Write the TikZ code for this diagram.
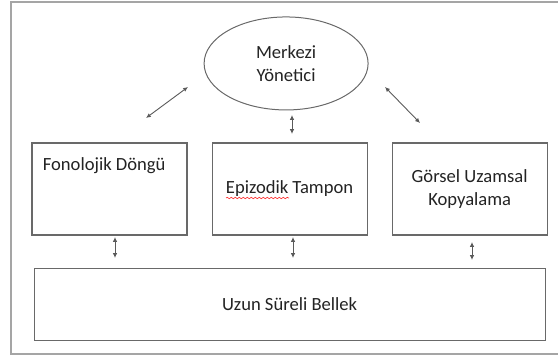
\documentclass[tikz,border=0pt]{standalone}
\usepackage{fontspec}
\setmainfont{Carlito}
\usetikzlibrary{arrows.meta,positioning,shapes.geometric,decorations.pathmorphing}
\usepackage{xcolor}
\definecolor{framegray}{RGB}{165,165,165}
\definecolor{boxgray}  {RGB}{105,105,105}
\definecolor{txtgray}  {RGB}{ 35, 35, 35}
\definecolor{arrowgray}{RGB}{ 90, 90, 90}

\begin{document}
\begin{tikzpicture}[
    x=0.5pt, y=-0.5pt,
    node distance=16pt and 12pt,
    txt/.style={text=txtgray, font=\fontsize{9.3}{11.5}\selectfont},
    box/.style={draw=boxgray, rectangle, line width=0.55pt, minimum width=77.5pt, minimum height=46pt, inner sep=0pt, align=center, txt},
    wide/.style={box, minimum width=255.5pt, minimum height=36pt},
    oval/.style={draw=boxgray, ellipse, line width=0.5pt, minimum width=82pt, minimum height=46.5pt, inner sep=0pt, align=center, txt},
    dbl/.style={{Latex[length=2.4pt,width=2.2pt]}-{Latex[length=2.4pt,width=2.2pt]}, draw=arrowgray, line width=0.45pt},
    frame/.style={draw=framegray, line width=0.8pt}
]
    \useasboundingbox (0,0) rectangle (558,358);
    \draw[frame] (11,2) rectangle (563,354);

    % --- components ---
    \node[box] (fon) at (109.5,189) {};
    \node[txt, anchor=north west, inner sep=0pt] (fontxt) at ([xshift=5.5pt,yshift=-7.5pt]fon.north west) {Fonolojik Döngü};
    \node[box] (epi) [right=of fon] {Epizodik Tampon};
    \node[box] (gor) [right=of epi] {Görsel Uzamsal\\Kopyalama};
    \node[wide] (usb) [below=of epi] {Uzun Süreli Bellek};
    \node[oval] (mer) [above=of epi, xshift=-1.75pt] {Merkezi\\Yönetici};

    % spell check mark
    \draw[red!85, line width=0.3pt, decorate, decoration={snake, amplitude=0.35pt, segment length=2pt}] (226,198) -- (289,198);

    % --- arrow ends ---
    \coordinate (dl1) at (146,118);  \coordinate (dl2) at (188,87);
    \coordinate (dr1) at (385,87);   \coordinate (dr2) at (420,123);
    \coordinate (dc1) at (292,115);  \coordinate (dc2) at (292,134);
    \coordinate (v1a) at (115,237);  \coordinate (v1b) at (115,258);
    \coordinate (v2a) at (293,237);  \coordinate (v2b) at (293,258);
    \coordinate (v3a) at (472,242);  \coordinate (v3b) at (472,260);

    % --- arrows ---
    \draw[dbl] (dl1) -- (dl2);
    \draw[dbl] (dr1) -- (dr2);
    \draw[dbl] (dc1) -- (dc2);
    \draw[dbl] (v1a) -- (v1b);
    \draw[dbl] (v2a) -- (v2b);
    \draw[dbl] (v3a) -- (v3b);

\end{tikzpicture}
\end{document}
